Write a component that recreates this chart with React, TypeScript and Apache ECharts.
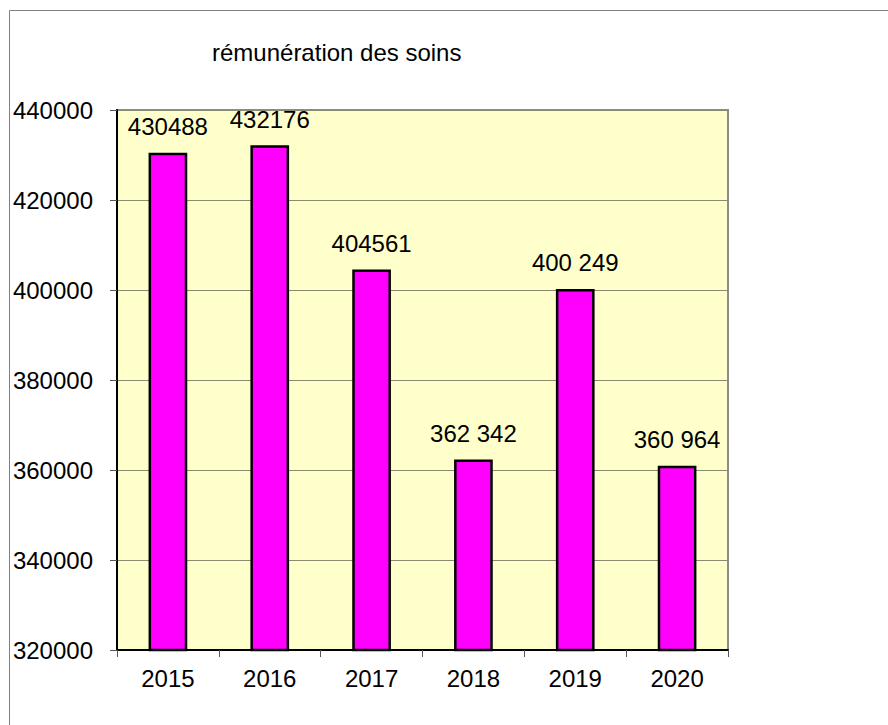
import React, { useEffect, useRef } from "react";
import * as echarts from "echarts";

const categories = ["2015", "2016", "2017", "2018", "2019", "2020"];
const values = [430488, 432176, 404561, 362342, 400249, 360964];
const valueLabels = ["430488", "432176", "404561", "362 342", "400 249", "360 964"];
const titleText = "rémunération des soins";

const FONT = "'Liberation Sans', Arial, sans-serif";

export default function App() {
  const ref = useRef<HTMLDivElement>(null);
  useEffect(() => {
    if (!ref.current) return;
    const chart = echarts.init(ref.current, null, { renderer: "svg" });
    chart.setOption({
      animation: false,
      backgroundColor: "#ffffff",
      title: {
        text: titleText,
        left: 207,
        top: 35,
        textStyle: { fontFamily: FONT, fontSize: 24, fontWeight: "normal", color: "#000" },
      },
      graphic: [
        {
          type: "rect",
          shape: { x: 9.5, y: 10.5, width: 900, height: 800 },
          style: { fill: "none", stroke: "#808080", lineWidth: 1 },
          silent: true,
        },
      ],
      grid: {
        left: 117,
        top: 110,
        right: 160,
        bottom: 75,
        show: true,
        backgroundColor: "#FFFFCC",
        borderColor: "#8c8c8c",
        borderWidth: 2,
      },
      xAxis: {
        type: "category",
        data: categories,
        axisLine: { show: true, lineStyle: { color: "#000", width: 2 } },
        axisTick: { show: true, length: 7, lineStyle: { color: "#555", width: 1 } },
        axisLabel: { fontFamily: FONT, fontSize: 24, color: "#000", margin: 16 },
      },
      yAxis: {
        type: "value",
        min: 320000,
        max: 440000,
        interval: 20000,
        axisLine: { show: true, lineStyle: { color: "#000", width: 2 } },
        axisTick: { show: true, length: 7, lineStyle: { color: "#555", width: 1 } },
        splitLine: { show: true, lineStyle: { color: "#8a8a70", width: 1 } },
        axisLabel: {
          fontFamily: FONT,
          fontSize: 24,
          color: "#000",
          margin: 24,
          formatter: (v: number) => String(v),
        },
      },
      series: [
        {
          type: "bar",
          data: values.map((v, i) => ({
            value: v,
            label: { formatter: valueLabels[i] },
          })),
          barWidth: "38%",
          itemStyle: { color: "#FF00FF", borderColor: "#000", borderWidth: 2.5 },
          label: {
            show: true,
            position: "top",
            distance: 14,
            fontFamily: FONT,
            fontSize: 24,
            color: "#000",
          },
        },
      ],
    });
    return () => chart.dispose();
  }, []);
  return (
    <div
      ref={ref}
      style={{ position: "fixed", left: 0, top: 0, width: 888, height: 725 }}
    />
  );
}
